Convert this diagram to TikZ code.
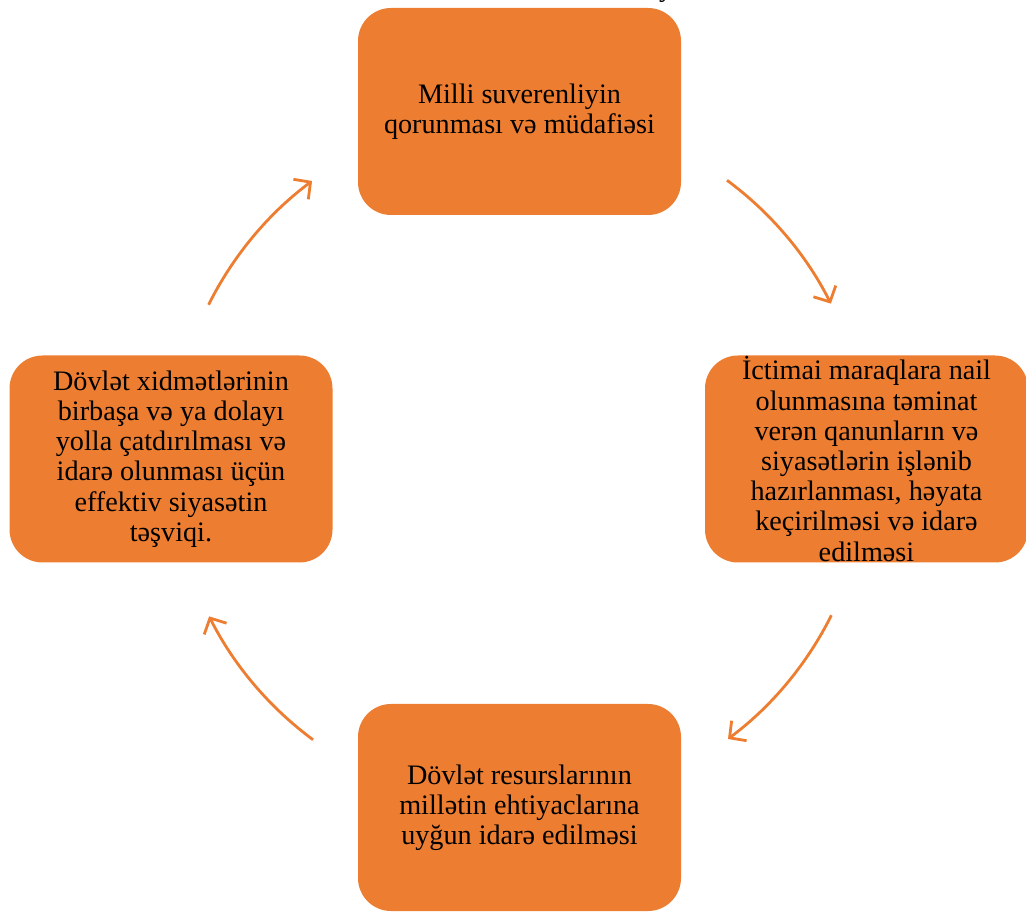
\documentclass[tikz,border=0pt]{standalone}
\usepackage{fontspec}
\setmainfont{Liberation Serif}
\usetikzlibrary{arrows.meta,calc}
\definecolor{accent}{HTML}{ED7D31}
\tikzset{
  box/.style={rectangle, rounded corners=33pt, fill=accent, draw=none,
    minimum width=323pt, minimum height=207pt, inner sep=0pt, align=center,
    font=\fontsize{28.2}{30.2}\selectfont, text=black},
  cyc/.style={draw=accent, line width=2.8pt,
    -{Straight Barb[length=12pt,width=25pt,line width=2.8pt]}}
}
\begin{document}
\begin{tikzpicture}[x=1pt,y=1pt]
\useasboundingbox (0,0) rectangle (1026,911);
% partial text above (cut off)
\node[anchor=base, font=\fontsize{28}{30}\selectfont, inner sep=0pt] (ytop) at (666,914) {y};
% boxes (pixel coords: y flipped)
\node[box] (top) at (519.5,799.5) {Milli suverenliyin\\qorunması və müdafiəsi};
\node[box] (right) at (866.5,452) {İctimai maraqlara nail\\olunmasına təminat\\verən qanunların və\\siyasətlərin işlənib\\hazırlanması, həyata\\keçirilməsi və idarə\\edilməsi};
\node[box] (bottom) at (519.5,103.5) {Dövlət resurslarının\\millətin ehtiyaclarına\\uyğun idarə edilməsi};
\node[box] (left) at (171,452) {Dövlət xidmətlərinin\\birbaşa və ya dolayı\\yolla çatdırılması və\\idarə olunması üçün\\effektiv siyasətin\\təşviqi.};
% cycle arrows on a circle centred at (520,451), r=348
\coordinate (ctr) at (520,451);
\coordinate (a1) at ($(ctr)+(53.5:348)$);
\coordinate (a2) at ($(ctr)+(-26.5:348)$);
\coordinate (a3) at ($(ctr)+(-126.5:348)$);
\coordinate (a4) at ($(ctr)+(153.5:348)$);
\draw[cyc] (a1) arc[start angle=53.5, end angle=26.7, radius=348];
\draw[cyc] (a2) arc[start angle=-26.5, end angle=-53.3, radius=348];
\draw[cyc] (a3) arc[start angle=-126.5, end angle=-153.3, radius=348];
\draw[cyc] (a4) arc[start angle=153.5, end angle=126.7, radius=348];
\end{tikzpicture}
\end{document}
